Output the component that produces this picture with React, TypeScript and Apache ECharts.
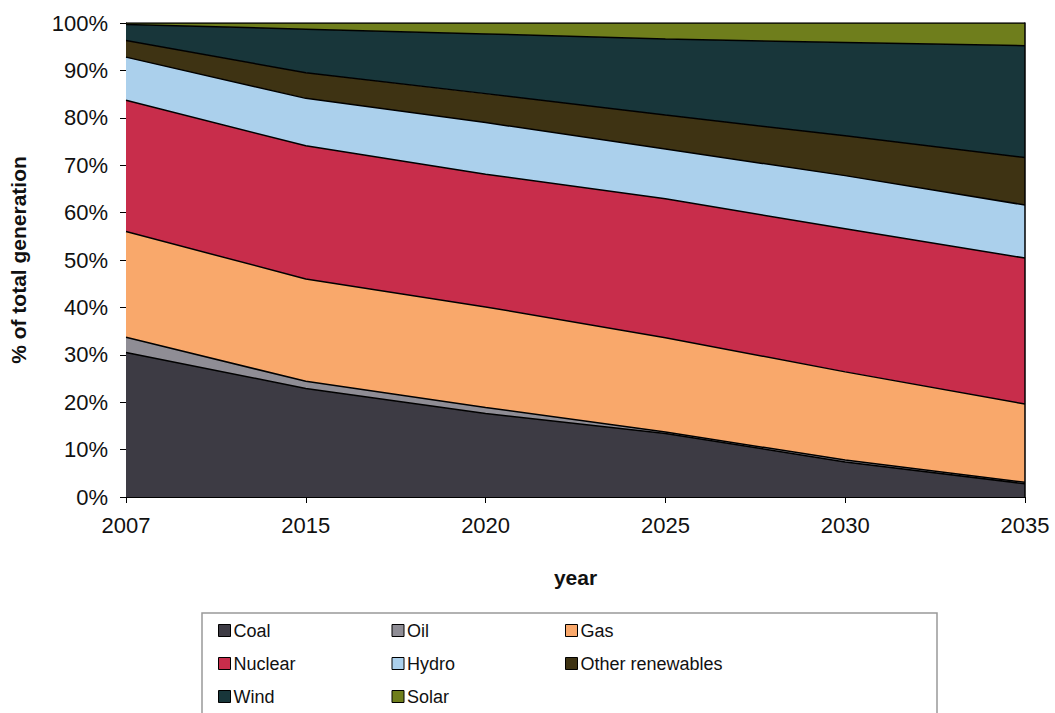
import React, { useEffect, useRef } from "react";
import * as echarts from "echarts";

// Share of total generation by source, percent per year
const years = ["2007", "2015", "2020", "2025", "2030", "2035"];
const coal = [30.5, 22.9, 17.6, 13.4, 7.4, 2.8];
const oil = [3.2, 1.5, 1.3, 0.3, 0.4, 0.3];
const gas = [22.3, 21.6, 21.2, 19.9, 18.6, 16.5];
const nuclear = [27.7, 28.1, 28.0, 29.3, 30.2, 30.8];
const hydro = [9.1, 10.0, 10.9, 10.5, 11.2, 11.2];
const otherRenewables = [3.5, 5.4, 6.1, 7.2, 8.4, 10.0];
const wind = [3.4, 9.2, 12.6, 16.0, 19.7, 23.6];
const solar = [0.3, 1.3, 2.3, 3.4, 4.1, 4.8];

const sources = [
  { name: "Coal", data: coal, color: "#3d3b44" },
  { name: "Oil", data: oil, color: "#8f8d95" },
  { name: "Gas", data: gas, color: "#f9a86b" },
  { name: "Nuclear", data: nuclear, color: "#c82d4b" },
  { name: "Hydro", data: hydro, color: "#abd0ec" },
  { name: "Other renewables", data: otherRenewables, color: "#3e3313" },
  { name: "Wind", data: wind, color: "#18363a" },
  { name: "Solar", data: solar, color: "#6f7e1c" },
];

const FONT = "Arial, 'Liberation Sans', Helvetica, sans-serif";

export default function App() {
  const ref = useRef<HTMLDivElement>(null);

  useEffect(() => {
    if (!ref.current) return;
    const chart = echarts.init(ref.current, undefined, { renderer: "svg" });
    chart.setOption({
      animation: false,
      backgroundColor: "#ffffff",
      grid: { left: 126, top: 23, width: 899, height: 474 },
      xAxis: {
        type: "category",
        data: years,
        boundaryGap: false,
        name: "year",
        nameLocation: "middle",
        nameGap: 70,
        nameTextStyle: { fontFamily: FONT, fontSize: 21, fontWeight: "bold", color: "#111" },
        axisLine: { lineStyle: { color: "#000", width: 1 } },
        axisTick: { show: true, length: 6, lineStyle: { color: "#000" } },
        axisLabel: { fontFamily: FONT, fontSize: 22, color: "#111", margin: 17 },
        splitLine: { show: false },
      },
      yAxis: [
        {
          type: "value",
          min: 0,
          max: 100,
          interval: 10,
          name: "% of total generation",
          nameLocation: "middle",
          nameGap: 97,
          nameTextStyle: { fontFamily: FONT, fontSize: 21, fontWeight: "bold", color: "#111" },
          axisLine: { show: true, lineStyle: { color: "#000", width: 1 } },
          axisTick: { show: true, length: 6, lineStyle: { color: "#000" } },
          axisLabel: { fontFamily: FONT, fontSize: 22, color: "#111", margin: 18, formatter: "{value}%" },
          splitLine: { show: false },
        },
        {
          // right-hand frame of the plot area
          type: "value",
          position: "right",
          min: 0,
          max: 100,
          interval: 10,
          z: 10,
          axisLine: { show: true, lineStyle: { color: "#000", width: 1.5 } },
          axisTick: { show: false },
          axisLabel: { show: false },
          splitLine: { show: false },
        },
      ],
      legend: {
        left: 218,
        top: 614,
        orient: "horizontal",
        width: 540,
        itemGap: 0,
        itemWidth: 12,
        itemHeight: 12,
        icon: "rect",
        padding: 0,
        textStyle: {
          fontFamily: FONT,
          fontSize: 18,
          color: "#111",
          width: 158,
          lineHeight: 33,
          padding: [0, 0, 0, -2],
        },
        data: sources.map((s) => ({
          name: s.name,
          itemStyle: { color: s.color, borderColor: "#000", borderWidth: 1 },
        })),
      },
      graphic: [
        {
          type: "rect",
          shape: { x: 202, y: 613, width: 735, height: 110 },
          style: { fill: "none", stroke: "#999", lineWidth: 1.5 },
          silent: true,
        },
      ],
      series: sources.map((s) => ({
        name: s.name,
        type: "line",
        stack: "total",
        data: s.data,
        symbol: "none",
        itemStyle: { color: s.color },
        lineStyle: { color: "#000", width: 1.5 },
        areaStyle: { color: s.color, opacity: 1 },
      })),
    });
    return () => chart.dispose();
  }, []);

  return (
    <div
      ref={ref}
      style={{ position: "fixed", left: 0, top: 0, width: 1055, height: 713 }}
    />
  );
}
